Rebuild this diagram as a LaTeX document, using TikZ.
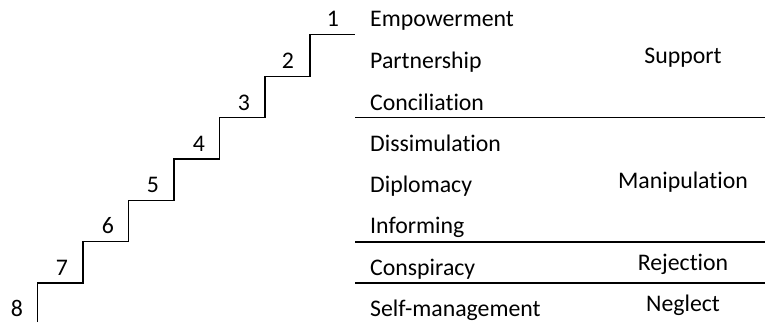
\documentclass[tikz,border=0pt]{standalone}
\usepackage{fontspec}
\setmainfont{Carlito}[Ligatures=NoCommon]
\usetikzlibrary{positioning}
\newcommand{\rung}[1]{\fontsize{23.8}{28}\selectfont #1}

\begin{document}
\begin{tikzpicture}[x=1pt,y=1pt,every node/.style={inner sep=0pt}]
 \useasboundingbox (0,0) rectangle (765,322);

 % the stairs
 \draw[line width=1.9pt] (37.5,0) -- (37.5,39) -- (83,39) -- (83,80.5)
    -- (128.5,80.5) -- (128.5,121.5) -- (174,121.5) -- (174,163)
    -- (219.5,163) -- (219.5,204.5) -- (265,204.5) -- (265,245.5)
    -- (310,245.5) -- (310,287.5) -- (355,287.5);

 % step numbers
 \draw (333,295.3) node[anchor=base] (n1) {\rung{1}};
 \draw (288,253.7) node[anchor=base] (n2) {\rung{2}};
 \draw (244,212)   node[anchor=base] (n3) {\rung{3}};
 \draw (199,170.3) node[anchor=base] (n4) {\rung{4}};
 \draw (153,129.3) node[anchor=base] (n5) {\rung{5}};
 \draw (108,88.7)  node[anchor=base] (n6) {\rung{6}};
 \draw (62,47)     node[anchor=base] (n7) {\rung{7}};
 \draw (17,5.3)    node[anchor=base] (n8) {\rung{8}};

 % step names
 \draw (370,295.3) node[anchor=base west] (l1) {\rung{Empowerment}};
 \draw (370,253.7) node[anchor=base west] (l2) {\rung{Partnership}};
 \draw (370,212)   node[anchor=base west] (l3) {\rung{Conciliation}};
 \draw (370,170.3) node[anchor=base west] (l4) {\rung{Dissimulation}};
 \draw (370,129.3) node[anchor=base west] (l5) {\rung{Diplomacy}};
 \draw (370,88.7)  node[anchor=base west] (l6) {\rung{Informing}};
 \draw (370,47)    node[anchor=base west] (l7) {\rung{Conspiracy}};
 \draw (370,5.3)   node[anchor=base west] (l8) {\rung{Self-management}};

 % groups
 \draw (683,258.7) node[anchor=base] (G) {\rung{Support}};
 \draw (683,133.7) node[anchor=base] (M) {\rung{Manipulation}};
 \draw (683,51.3)  node[anchor=base] (R) {\rung{Rejection}};
 \draw (683,10.3)  node[anchor=base] (N) {\rung{Neglect}};

 \draw[line width=1.9pt] (355,204.5) -- (765,204.5);
 \draw[line width=1.9pt] (355,80.3)  -- (765,80.3);
 \draw[line width=1.9pt] (355,39.3)  -- (765,39.3);

\end{tikzpicture}
\end{document}
